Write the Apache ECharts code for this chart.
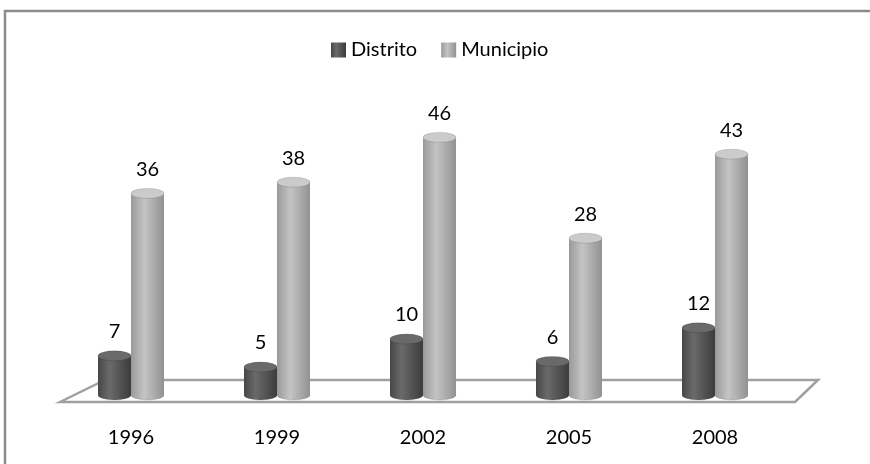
<!DOCTYPE html>
<html>
<head>
<meta charset="utf-8">
<script src="https://cdn.jsdelivr.net/npm/echarts@6/dist/echarts.min.js"></script>
<style>
  html, body { margin: 0; padding: 0; background: #fff; }
  #chart { width: 870px; height: 464px; }
</style>
</head>
<body>
<div id="chart"></div>
<script>
const years = ['1996', '1999', '2002', '2005', '2008']
const distrito = [7, 5, 10, 6, 12]
const municipio = [36, 38, 46, 28, 43]

const chart = echarts.init(document.getElementById('chart'))
const G = echarts.graphic

// cylinder drawn around the category center, shifted by offset
function cylinder(offset, body, topColor) {
  return function(params, api) {
    const base = api.coord([api.value(0), 0])
    const top = api.coord([api.value(0), api.value(1)])
    const w = 33
    const r = w / 2
    const ry = 5
    const cx = base[0] + offset
    const fill = new G.LinearGradient(0, 0, 1, 0, body)
    return {
      type: 'group',
      children: [
        {
          type: 'circle',
          shape: { cx: 0, cy: 0, r: r },
          x: cx, y: base[1], scaleY: ry / r,
          style: { fill: fill, stroke: 'rgba(0,0,0,0.2)', lineWidth: 1 }
        },
        {
          type: 'rect',
          shape: { x: cx - r, y: top[1], width: w, height: base[1] - top[1] },
          style: { fill: fill }
        },
        {
          type: 'circle',
          shape: { cx: 0, cy: 0, r: r },
          x: cx, y: top[1], scaleY: ry / r,
          style: { fill: topColor, stroke: 'rgba(0,0,0,0.2)', lineWidth: 1 }
        },
        {
          type: 'text',
          x: cx, y: top[1] - ry - 9,
          style: {
            text: String(api.value(1)),
            align: 'center', verticalAlign: 'bottom',
            fontSize: 20, fontFamily: 'Lato', fill: '#000'
          }
        }
      ]
    }
  }
}

const darkBody = [
  { offset: 0, color: '#474747' },
  { offset: 0.35, color: '#6a6a6a' },
  { offset: 1, color: '#3c3c3c' }
]
const lightBody = [
  { offset: 0, color: '#999' },
  { offset: 0.4, color: '#c4c4c4' },
  { offset: 1, color: '#929292' }
]

chart.setOption({
  backgroundColor: '#fff',
  animation: false,
  graphic: [
    {
      type: 'polygon',
      z: -1,
      shape: { points: [[60, 402], [105, 380], [818, 380], [795, 402]] },
      style: { fill: '#fff', stroke: '#a0a0a0', lineWidth: 2.5 }
    },
    {
      type: 'polyline',
      shape: { points: [[5, 470], [5, 11], [875, 11]] },
      style: { fill: null, stroke: '#8c8c8c', lineWidth: 2.5 }
    }
  ],
  legend: {
    top: 35,
    left: 326,
    itemWidth: 15,
    itemHeight: 15,
    itemGap: 24,
    icon: 'rect',
    textStyle: { fontSize: 20, fontFamily: 'Lato', color: '#000' },
    data: ['Distrito', 'Municipio']
  },
  grid: {
    left: 58,
    right: 82,
    top: 115,
    height: 280
  },
  xAxis: {
    type: 'category',
    data: years,
    axisLine: { show: false },
    axisTick: { show: false },
    axisLabel: { margin: 33, fontSize: 20, fontFamily: 'Lato', color: '#000' }
  },
  yAxis: {
    type: 'value',
    min: 0,
    max: 50,
    show: false
  },
  series: [
    {
      name: 'Distrito',
      type: 'custom',
      itemStyle: { color: new G.LinearGradient(0, 0, 1, 0, darkBody) },
      encode: { x: 0, y: 1 },
      renderItem: cylinder(-16.5, darkBody, '#6a6a6a'),
      data: distrito.map((v, i) => [i, v])
    },
    {
      name: 'Municipio',
      type: 'custom',
      itemStyle: { color: new G.LinearGradient(0, 0, 1, 0, lightBody) },
      encode: { x: 0, y: 1 },
      renderItem: cylinder(16.5, lightBody, '#cbcbcb'),
      data: municipio.map((v, i) => [i, v])
    }
  ]
})
</script>
</body>
</html>
